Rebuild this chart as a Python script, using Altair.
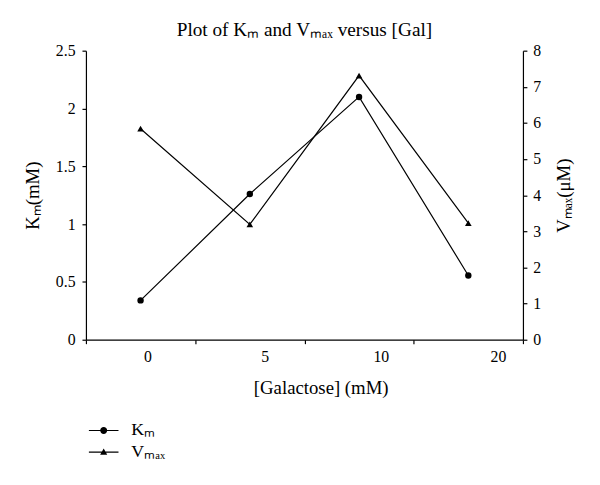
import altair as alt
import pandas as pd

conc = ["0", "5", "10", "20"]
km = [0.34, 1.26, 2.10, 0.556]
vmax = [5.84, 3.19, 7.31, 3.23]
series = ["Kₘ", "Vₘₐₓ"]
km_ticks = [0, 0.5, 1, 1.5, 2, 2.5]
v_ticks = [0, 1, 2, 3, 4, 5, 6, 7, 8]

FONT = "Liberation Serif"

km_df = pd.DataFrame({"conc": conc, "value": km, "series": series[0]})
v_df = pd.DataFrame({"conc": conc, "value": vmax, "series": series[1]})
leg_df = pd.DataFrame({"conc": conc[:2], "series": series, "blank": [None, None]})

x_enc = alt.X(
    "conc:N",
    sort=conc,
    scale=alt.Scale(type="band", paddingInner=0, paddingOuter=0),
    axis=alt.Axis(
        title="[Galactose] (mM)",
        tickBand="extent",
        labelAngle=0,
        labelOffset={"expr": "datum.value == '0' ? 7 : datum.value == '5' ? 15 : datum.value == '10' ? 22 : 30"},
        labelPadding=5,
        tickSize=4,
        titleX=238,
        titleY=40,
        titleBaseline="top",
    ),
)

km_y = alt.Y(
    "value:Q",
    scale=alt.Scale(domain=[0, 2.5]),
    axis=alt.Axis(
        title="Kₘ(mM)",
        values=km_ticks,
        format="~g",
        orient="left",
        tickSize=4,
        labelPadding=7,
        titlePadding=13,
    ),
)

v_y = alt.Y(
    "value:Q",
    scale=alt.Scale(domain=[0, 8]),
    axis=alt.Axis(
        title="Vₘₐₓ(μM)",
        values=v_ticks,
        format="~g",
        orient="right",
        tickSize=4,
        labelPadding=6,
        titlePadding=33,
        titleAngle=270,
    ),
)

path_k = (
    "M-2,-0.08H2V0.08H-2Z"
    "M0.47,0A0.47,0.47,0,1,1,-0.47,0A0.47,0.47,0,1,1,0.47,0Z"
)
path_v = "M-2,-0.08H2V0.08H-2ZM0,-0.5L0.48,0.35L-0.48,0.35Z"

km_line = alt.Chart(km_df).mark_line(color="black", strokeWidth=1.2).encode(x=x_enc, y=km_y)
km_pts = alt.Chart(km_df).mark_point(
    shape="circle", filled=True, color="black", size=42, opacity=1
).encode(x=x_enc, y=km_y)

legend_layer = alt.Chart(leg_df).mark_point(
    filled=True, color="black", opacity=1
).encode(
    x=x_enc,
    y=alt.Y("blank:Q", scale=alt.Scale(domain=[0, 2.5])),
    shape=alt.Shape(
        "series:N",
        scale=alt.Scale(domain=series, range=[path_k, path_v]),
        legend=alt.Legend(
            title=None,
            orient="none",
            legendX=9,
            legendY=376,
            direction="vertical",
            symbolSize=225,
            symbolFillColor="black",
            symbolOpacity=1,
            labelFont=FONT,
            labelFontSize=18,
            labelColor="black",
            labelOffset=19,
            rowPadding=4,
            padding=0,
        ),
    ),
)

v_line = alt.Chart(v_df).mark_line(color="black", strokeWidth=1.2).encode(x=x_enc, y=v_y)
v_pts = alt.Chart(v_df).mark_point(
    shape="triangle-up", filled=True, color="black", size=45, opacity=1
).encode(x=x_enc, y=v_y)

chart = (
    alt.layer(
        alt.layer(km_line, km_pts, legend_layer),
        alt.layer(v_line, v_pts),
    )
    .resolve_scale(y="independent")
    .properties(
        width=443,
        height=293,
        autosize="none",
        background="white",
        padding={"left": 79, "top": 40, "right": 70, "bottom": 144},
        title=alt.TitleParams(
            "Plot of Kₘ and Vₘₐₓ versus [Gal]",
            font=FONT,
            fontSize=19.5,
            fontWeight="normal",
            color="black",
            anchor="middle",
            frame="group",
            baseline="alphabetic",
            offset=-13,
        ),
    )
    .configure_view(stroke="transparent")
    .configure_axis(
        grid=False,
        domainColor="black",
        domainWidth=1.2,
        tickColor="black",
        tickWidth=1.2,
        labelFont=FONT,
        labelFontSize=16,
        labelColor="black",
        titleFont=FONT,
        titleFontSize=19,
        titleFontWeight="normal",
        titleColor="black",
    )
)

chart.save("out.html", embed_options={"renderer": "svg", "actions": False})
